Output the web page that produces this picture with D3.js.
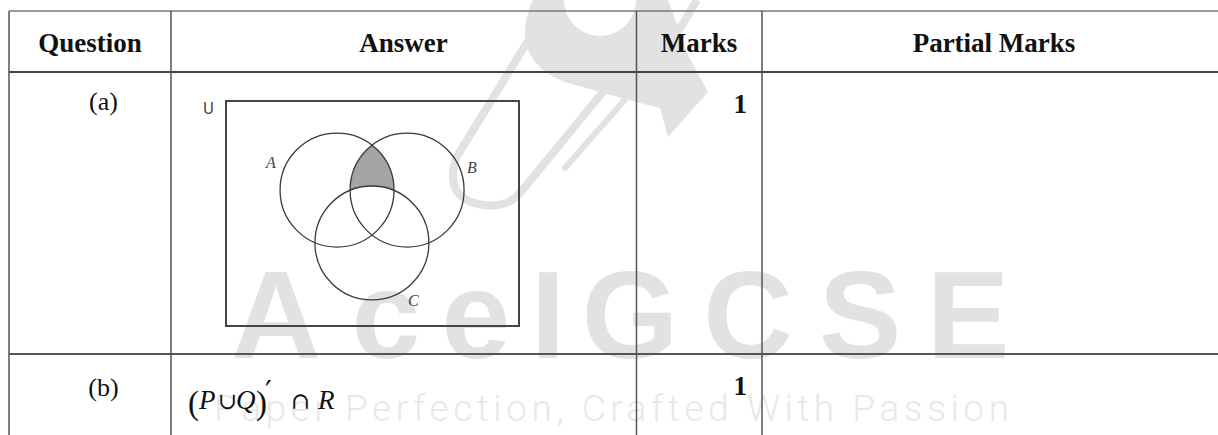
<!DOCTYPE html>
<html>
<head>
<meta charset="utf-8">
<script src="https://cdn.jsdelivr.net/npm/d3@7"></script>
<style>
  html, body { margin: 0; padding: 0; background: #ffffff; }
  svg { display: block; }
</style>
</head>
<body>
<svg id="chart" width="1218" height="435"></svg>
<script>
// ---------- data ----------
const headers = ["Question", "Answer", "Marks", "Partial Marks"];
const questions = ["(a)", "(b)"];
const marks = [1, 1];
const partialMarks = ["", ""];
const vennSets = ["A", "B", "C"];
// Venn circle centres in box-relative units (0..1 of the universal box)
const vennCx = [0.379, 0.618, 0.498];
const vennCy = [0.396, 0.396, 0.631];
const vennR = 0.1945; // radius as a fraction of the box width
const shadedRegion = "(A ∩ B) ∩ C′";
const answerB = ["(", "P", "∪", "Q", ")", "′", "∩", "R"];
const watermarkLetters = ["A", "c", "e", "I", "G", "C", "S", "E"];
const tagline = "Paper Perfection, Crafted With Passion";

// ---------- layout ----------
const W = 1218, H = 435;
const colEdges = [9, 171, 636.5, 762, 1226];
const rowEdges = [11, 72, 354, 470];
const svg = d3.select("#chart");
const serif = "'Liberation Serif', 'Times New Roman', serif";

svg.append("rect").attr("width", W).attr("height", H).attr("fill", "#fff");

// ---------- watermark ----------
const wm = svg.append("g").attr("class", "watermark");
const wmGray = "#e2e2e2";
wm.append("path")
  .attr("d", "M 553,0 L 456,158 Q 444,196 478,204 Q 505,210 520,193 L 616,76")
  .attr("fill", "none").attr("stroke", wmGray).attr("stroke-width", 8).attr("stroke-linecap", "round");
wm.append("path")
  .attr("d", "M 612,72 L 660,0").attr("stroke", wmGray).attr("stroke-width", 8);
wm.append("path")
  .attr("d", "M 628,96 L 565,168").attr("stroke", wmGray).attr("stroke-width", 6).attr("stroke-linecap", "round");
wm.append("path")
  .attr("d", "M 666,52 L 697,0").attr("stroke", wmGray).attr("stroke-width", 8);
wm.append("path")
  .attr("d", "M 533,0 L 668,0 L 688,55 L 708,92 L 668,137 L 660,108 L 628,100 L 565,82 C 522,66 518,32 533,0 Z")
  .attr("fill", wmGray);
wm.append("circle").attr("cx", 600).attr("cy", 0).attr("r", 36).attr("fill", "#fff");

const letterCenters = [276, 386, 476, 548, 630, 748, 860, 968];
wm.selectAll("text.wl").data(watermarkLetters).join("text")
  .attr("class", "wl")
  .attr("x", (d, i) => letterCenters[i])
  .attr("y", 358)
  .attr("text-anchor", "middle")
  .attr("font-family", "'Liberation Sans', Arial, sans-serif")
  .attr("font-weight", "bold")
  .attr("font-size", 124)
  .attr("fill", wmGray)
  .text(d => d);

wm.append("text")
  .attr("x", 214).attr("y", 421)
  .attr("font-family", "Roboto, 'Liberation Sans', sans-serif")
  .attr("font-weight", 300)
  .attr("font-size", 37)
  .attr("textLength", 795)
  .attr("lengthAdjust", "spacing")
  .attr("fill", "#e8e8e8")
  .text(tagline);

// ---------- table lines ----------
const lines = svg.append("g").attr("class", "grid");
lines.append("line").attr("x1", colEdges[0]).attr("x2", W).attr("y1", rowEdges[0]).attr("y2", rowEdges[0])
  .attr("stroke", "#777").attr("stroke-width", 1.5);
lines.append("line").attr("x1", colEdges[0]).attr("x2", W).attr("y1", rowEdges[1]).attr("y2", rowEdges[1])
  .attr("stroke", "#444").attr("stroke-width", 2.2);
lines.append("line").attr("x1", colEdges[0]).attr("x2", W).attr("y1", rowEdges[2]).attr("y2", rowEdges[2])
  .attr("stroke", "#555").attr("stroke-width", 2);
lines.selectAll("line.v").data(colEdges.slice(0, 4)).join("line")
  .attr("class", "v")
  .attr("x1", d => d).attr("x2", d => d)
  .attr("y1", rowEdges[0]).attr("y2", H)
  .attr("stroke", "#555").attr("stroke-width", 1.5);

// ---------- headers ----------
const headerCenters = [90, 403.5, 699, 994];
svg.selectAll("text.hdr").data(headers).join("text")
  .attr("class", "hdr")
  .attr("x", (d, i) => headerCenters[i])
  .attr("y", 52)
  .attr("text-anchor", "middle")
  .attr("font-family", serif)
  .attr("font-weight", "bold")
  .attr("font-size", 27)
  .attr("fill", "#111")
  .text(d => d);

// ---------- question labels & marks ----------
const rowBaselines = [110, 396];
svg.selectAll("text.q").data(questions).join("text")
  .attr("class", "q")
  .attr("x", 103.5).attr("y", (d, i) => rowBaselines[i])
  .attr("text-anchor", "middle")
  .attr("font-family", serif).attr("font-size", 26).attr("fill", "#111")
  .text(d => d);

const markBaselines = [113, 395];
svg.selectAll("text.m").data(marks).join("text")
  .attr("class", "m")
  .attr("x", 747).attr("y", (d, i) => markBaselines[i])
  .attr("text-anchor", "end")
  .attr("font-family", serif).attr("font-weight", "bold").attr("font-size", 27).attr("fill", "#111")
  .text(d => d);

// ---------- Venn diagram ----------
const box = { x0: 226, x1: 519, y0: 101, y1: 326 };
const vx = d3.scaleLinear().domain([0, 1]).range([box.x0, box.x1]);
const vy = d3.scaleLinear().domain([0, 1]).range([box.y0, box.y1]);
const rPx = vx(vennR) - vx(0);
const circles = vennSets.map((s, i) => ({ name: s, cx: vx(vennCx[i]), cy: vy(vennCy[i]), r: rPx }));

const defs = svg.append("defs");
defs.append("clipPath").attr("id", "clipA")
  .append("circle").attr("cx", circles[0].cx).attr("cy", circles[0].cy).attr("r", circles[0].r);
const mask = defs.append("mask").attr("id", "notC");
mask.append("rect").attr("x", 0).attr("y", 0).attr("width", W).attr("height", H).attr("fill", "#fff");
mask.append("circle").attr("cx", circles[2].cx).attr("cy", circles[2].cy).attr("r", circles[2].r).attr("fill", "#000");

const venn = svg.append("g").attr("class", "venn");
venn.append("rect")
  .attr("x", box.x0).attr("y", box.y0)
  .attr("width", box.x1 - box.x0).attr("height", box.y1 - box.y0)
  .attr("fill", "none").attr("stroke", "#444").attr("stroke-width", 2);

venn.append("g").attr("mask", "url(#notC)")
  .append("g").attr("clip-path", "url(#clipA)")
  .append("circle")
  .attr("cx", circles[1].cx).attr("cy", circles[1].cy).attr("r", circles[1].r)
  .attr("fill", "#a4a4a4");

venn.selectAll("circle.set").data(circles).join("circle")
  .attr("class", "set")
  .attr("cx", d => d.cx).attr("cy", d => d.cy).attr("r", d => d.r)
  .attr("fill", "none").attr("stroke", "#3a3a3a").attr("stroke-width", 1.3);

const labelPos = [[266, 168], [467, 173], [408, 306]];
venn.selectAll("text.setlabel").data(circles).join("text")
  .attr("class", "setlabel")
  .attr("x", (d, i) => labelPos[i][0]).attr("y", (d, i) => labelPos[i][1])
  .attr("font-family", serif).attr("font-style", "italic").attr("font-size", 16).attr("fill", "#444")
  .text(d => d.name);

venn.append("text").attr("x", 203).attr("y", 114)
  .attr("font-family", "'DejaVu Sans', sans-serif").attr("font-size", 15).attr("fill", "#444")
  .text("U");

// ---------- answer (b) as one text with tspans ----------
const glyphStyle = [
  { x: 188, y: 414, it: false, fs: 33, ff: serif },
  { x: 199, y: 409, it: true, fs: 27, ff: serif },
  { x: 218, y: 409, it: false, fs: 23, ff: "'DejaVu Serif', serif" },
  { x: 236, y: 409, it: true, fs: 27, ff: serif },
  { x: 256, y: 414, it: false, fs: 33, ff: serif },
  { x: 265, y: 402, it: false, fs: 30, ff: "'DejaVu Serif', serif" },
  { x: 291, y: 409, it: false, fs: 23, ff: "'DejaVu Serif', serif" },
  { x: 318, y: 409, it: true, fs: 27, ff: serif }
];
svg.append("text").attr("class", "ans")
  .attr("fill", "#111")
  .selectAll("tspan").data(answerB).join("tspan")
  .attr("x", (d, i) => glyphStyle[i].x).attr("y", (d, i) => glyphStyle[i].y)
  .attr("font-family", (d, i) => glyphStyle[i].ff)
  .attr("font-style", (d, i) => glyphStyle[i].it ? "italic" : "normal")
  .attr("font-size", (d, i) => glyphStyle[i].fs)
  .text(d => d);
</script>
</body>
</html>
